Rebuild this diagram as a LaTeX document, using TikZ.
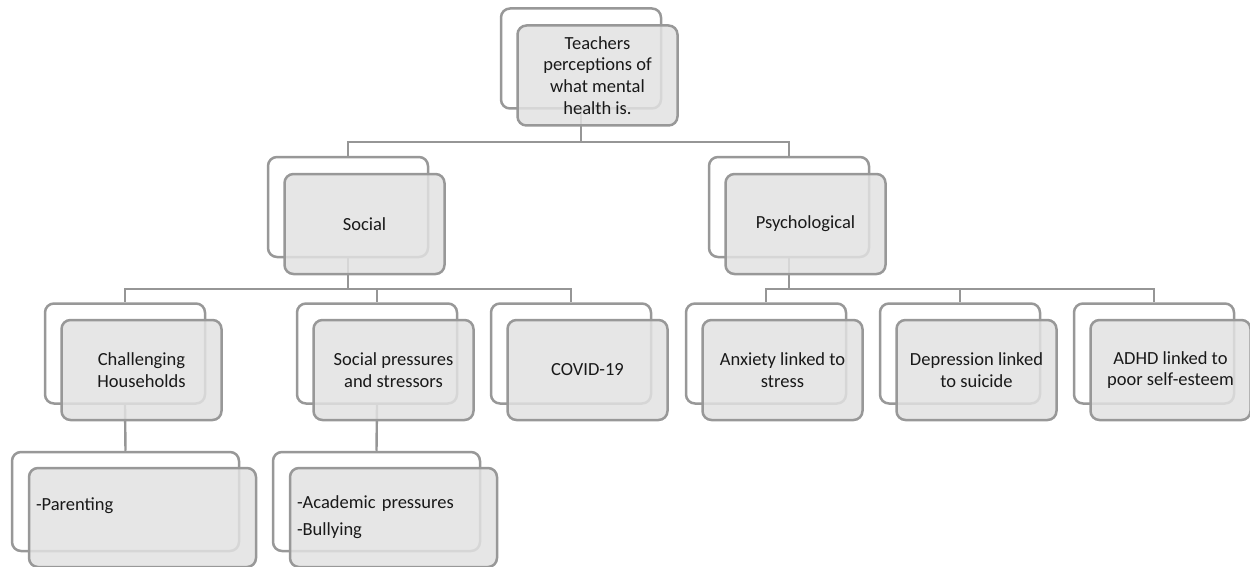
\documentclass[tikz,border=0pt]{standalone}
\usepackage{fontspec}
\setmainfont{Carlito}
\definecolor{boxline}{RGB}{152,152,152}
\definecolor{boxfill}{RGB}{226,226,226}
\definecolor{linkgray}{RGB}{150,150,150}
\tikzset{
  backbox/.style={draw=boxline, line width=2.5pt, rounded corners=9pt, fill=white,
    minimum width=160pt, minimum height=100pt, inner sep=0pt},
  frontbox/.style={draw=boxline, line width=2.5pt, rounded corners=9pt, fill=boxfill,
    fill opacity=0.85, text opacity=1, text=black!90, minimum width=160pt, minimum height=100pt,
    align=center, font=\fontsize{18.5}{21.7}\selectfont, inner sep=2pt},
  leafbox/.style={frontbox, align=left, inner sep=7pt, minimum height=99pt},
  link/.style={draw=linkgray, line width=2.4pt}
}
\begin{document}
\begin{tikzpicture}[x=1pt, y=-1pt]
\useasboundingbox (0,0) rectangle (1250,567);
% back boxes
\node[backbox] (top-b) at (581,58.5) {};
\node[backbox] (soc-b) at (348,207) {};
\node[backbox] (psy-b) at (789,207) {};
\node[backbox] (chal-b) at (125,353.5) {};
\node[backbox] (spr-b) at (377,353.5) {};
\node[backbox] (cov-b) at (571,353.5) {};
\node[backbox] (anx-b) at (766,353.5) {};
\node[backbox] (dep-b) at (960,353.5) {};
\node[backbox] (adhd-b) at (1154,353.5) {};
\node[backbox, minimum width=227pt, minimum height=99pt] (par-b) at (125.5,501.5) {};
\node[backbox, minimum width=207pt, minimum height=99pt] (acad-b) at (376.5,501.5) {};
% connectors
\draw[link] (top-b.south) -- ++(0,32) -| (soc-b.north);
\draw[link] (top-b.south) -- ++(0,32) -| (psy-b.north);
\foreach \c in {chal-b,spr-b,cov-b}
	\draw[link] (soc-b.south) -- ++(0,31) -| (\c.north);
\foreach \c in {anx-b,dep-b,adhd-b}
	\draw[link] (psy-b.south) -- ++(0,31) -| (\c.north);
\draw[link] (chal-b.south) -- (par-b.north);
\draw[link] (spr-b.south) -- (acad-b.north);
% front boxes
\node[frontbox] (top) at ([shift={(16.5,17)}]top-b.center) {Teachers\\perceptions of\\what mental\\health is.};
\node[frontbox] (soc) at ([shift={(16.5,17)}]soc-b.center) {Social};
\node[frontbox] (psy) at ([shift={(16.5,17)}]psy-b.center) {Psychological};
\node[frontbox] (chal) at ([shift={(16.5,16.5)}]chal-b.center) {Challenging\\Households};
\node[frontbox] (spr) at ([shift={(16.5,16.5)}]spr-b.center) {Social pressures\\and stressors};
\node[frontbox] (cov) at ([shift={(16.5,16.5)}]cov-b.center) {COVID-19};
\node[frontbox] (anx) at ([shift={(16.5,16.5)}]anx-b.center) {Anxiety linked to\\stress};
\node[frontbox] (dep) at ([shift={(16.5,16.5)}]dep-b.center) {Depression linked\\to suicide};
\node[frontbox] (adhd) at ([shift={(16.5,16.5)}]adhd-b.center) {ADHD linked to\\poor self-esteem};
\node[leafbox, text width=213pt] (par) at ([shift={(17,16)}]par-b.center) {-Parenting\\[5pt]\mbox{}};
\node[leafbox, text width=193pt] (acad) at ([shift={(17,16)}]acad-b.center) {-Academic pressures\\[5pt]-Bullying};
\end{tikzpicture}
\end{document}
